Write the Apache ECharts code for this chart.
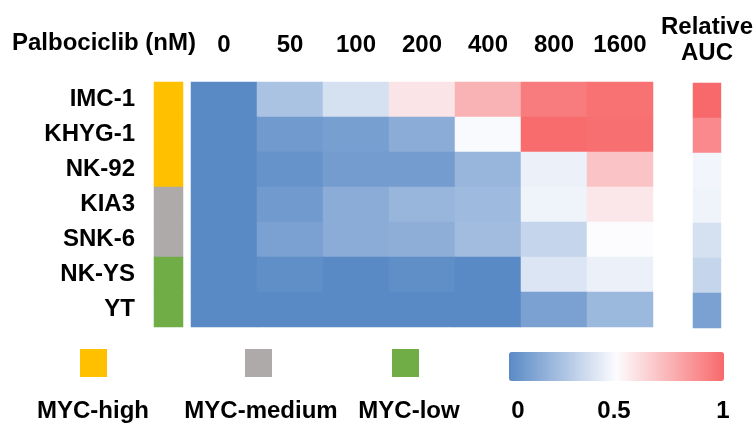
<!DOCTYPE html>
<html>
<head>
<meta charset="utf-8">
<script src="https://cdn.jsdelivr.net/npm/echarts@6/dist/echarts.min.js"></script>
<style>
html, body { margin: 0; padding: 0; background: #ffffff; }
#main { width: 756px; height: 426px; }
</style>
</head>
<body>
<div id="main"></div>
<script>
// rows and columns of the heatmap
var cellLines = ["IMC-1", "KHYG-1", "NK-92", "KIA3", "SNK-6", "NK-YS", "YT"];
var doses = ["0", "50", "100", "200", "400", "800", "1600"];

// MYC group of every cell line
var mycGroup = ["MYC-high", "MYC-high", "MYC-high", "MYC-medium", "MYC-medium", "MYC-low", "MYC-low"];
var groupNames = ["MYC-high", "MYC-medium", "MYC-low"];
var groupColors = ["#ffc000", "#aeaaaa", "#70ad47"];

// relative values per dose (0 = blue, 0.5 = white, 1 = red)
var imc1   = [0, 0.25, 0.38, 0.58, 0.75, 0.94, 0.97];
var khyg1  = [0, 0.07, 0.09, 0.15, 0.49, 0.99, 0.98];
var nk92   = [0, 0.04, 0.08, 0.08, 0.19, 0.45, 0.69];
var kia3   = [0, 0.07, 0.15, 0.19, 0.21, 0.46, 0.57];
var snk6   = [0, 0.10, 0.15, 0.16, 0.22, 0.33, 0.50];
var nkys   = [0, 0.02, 0.00, 0.02, 0.00, 0.40, 0.45];
var yt     = [0, 0.00, 0.00, 0.00, 0.00, 0.10, 0.20];
var rows = [imc1, khyg1, nk92, kia3, snk6, nkys, yt];

// relative AUC per cell line
var relAUC = [1.0, 0.89, 0.47, 0.46, 0.38, 0.33, 0.10];

// colour scale labels
var scaleTicks = ["0", "0.5", "1"];

var font = "'Liberation Sans', Arial, sans-serif";

var heatData = [];
for (var i = 0; i < rows.length; i++) {
  for (var j = 0; j < doses.length; j++) {
    heatData.push([j, i, rows[i][j]]);
  }
}
var aucData = [];
for (var i = 0; i < relAUC.length; i++) {
  aucData.push([0, i, relAUC[i]]);
}
var groupData = [];
for (var i = 0; i < mycGroup.length; i++) {
  var g = groupNames.indexOf(mycGroup[i]);
  groupData.push({ value: [0, i, g], itemStyle: { color: groupColors[g] } });
}

var labelStyle = { color: "#000000", fontFamily: font, fontWeight: "bold", fontSize: 24 };

// legend squares and texts under the chart
var squareX = [80, 245, 392];
var labelX = [93, 261, 409];
var scaleX = [518, 614, 723];
var graphics = [{
  type: "text", left: 12, top: 31,
  style: { text: "Palbociclib (nM)", fill: "#000", font: "bold 24px " + font }
}];
for (var k = 0; k < groupNames.length; k++) {
  graphics.push({
    type: "rect", shape: { x: squareX[k], y: 349, width: 27, height: 28 },
    style: { fill: groupColors[k] }
  });
  graphics.push({
    type: "text", x: labelX[k], y: 411,
    style: { text: groupNames[k], fill: "#000", font: "bold 24px " + font, align: "center", verticalAlign: "middle" }
  });
}
for (var k = 0; k < scaleTicks.length; k++) {
  graphics.push({
    type: "text", x: scaleX[k], y: 411,
    style: { text: scaleTicks[k], fill: "#000", font: "bold 24px " + font, align: "center", verticalAlign: "middle" }
  });
}

var myChart = echarts.init(document.getElementById("main"));
myChart.setOption({
  animation: false,
  backgroundColor: "#ffffff",
  grid: [
    { left: 154, top: 82, width: 29, height: 245 },
    { left: 191, top: 82, width: 462, height: 245 },
    { left: 693, top: 83, width: 30, height: 245 }
  ],
  xAxis: [
    { gridIndex: 0, type: "category", data: [""], show: false },
    {
      gridIndex: 1, type: "category", data: doses, position: "top",
      axisLine: { show: false }, axisTick: { show: false }, splitLine: { show: false },
      axisLabel: Object.assign({ margin: 25, interval: 0 }, labelStyle)
    },
    {
      gridIndex: 2, type: "category", data: ["Relative\nAUC"], position: "top",
      axisLine: { show: false }, axisTick: { show: false }, splitLine: { show: false },
      axisLabel: Object.assign({ margin: 17, lineHeight: 26, interval: 0 }, labelStyle)
    }
  ],
  yAxis: [
    {
      gridIndex: 0, type: "category", data: cellLines, inverse: true,
      axisLine: { show: false }, axisTick: { show: false }, splitLine: { show: false },
      axisLabel: Object.assign({ margin: 19, interval: 0 }, labelStyle)
    },
    { gridIndex: 1, type: "category", data: cellLines, inverse: true, show: false },
    { gridIndex: 2, type: "category", data: cellLines, inverse: true, show: false }
  ],
  visualMap: {
    type: "continuous",
    min: 0,
    max: 1,
    seriesIndex: [0, 1],
    orient: "horizontal",
    left: 509,
    top: 352,
    padding: 0,
    itemWidth: 29,
    itemHeight: 215,
    calculable: false,
    text: null,
    inRange: { color: ["#5a8ac6", "#fcfcff", "#f8696b"] }
  },
  graphic: graphics,
  series: [
    {
      type: "heatmap", xAxisIndex: 1, yAxisIndex: 1, data: heatData,
      itemStyle: { borderWidth: 0 }, emphasis: { disabled: true }
    },
    {
      type: "heatmap", xAxisIndex: 2, yAxisIndex: 2, data: aucData,
      itemStyle: { borderWidth: 0 }, emphasis: { disabled: true }
    },
    {
      type: "heatmap", xAxisIndex: 0, yAxisIndex: 0, data: groupData,
      itemStyle: { borderWidth: 0 }, emphasis: { disabled: true }
    }
  ]
});
</script>
</body>
</html>
